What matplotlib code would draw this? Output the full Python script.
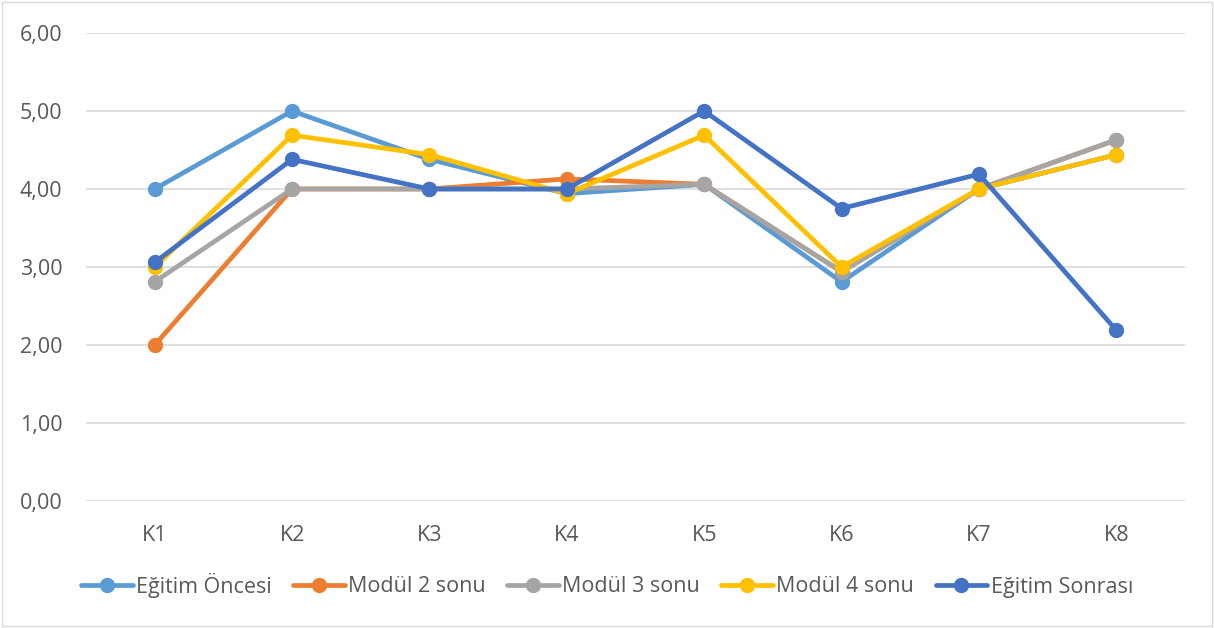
import matplotlib
matplotlib.use("Agg")
import matplotlib.pyplot as plt
from matplotlib.patches import Rectangle

categories = ["K1", "K2", "K3", "K4", "K5", "K6", "K7", "K8"]
egitim_oncesi = [4.00, 5.00, 4.38, 3.94, 4.06, 2.81, 4.00, 4.44]
modul2 = [2.00, 4.00, 4.00, 4.13, 4.06, 2.94, 4.00, 4.63]
modul3 = [2.81, 4.00, 4.00, 4.00, 4.06, 2.94, 4.00, 4.63]
modul4 = [3.00, 4.69, 4.44, 3.94, 4.69, 3.00, 4.00, 4.44]
egitim_sonrasi = [3.06, 4.38, 4.00, 4.00, 5.00, 3.75, 4.19, 2.19]

series = [
    ("Eğitim Öncesi", egitim_oncesi, "#5B9BD5"),
    ("Modül 2 sonu", modul2, "#ED7D31"),
    ("Modül 3 sonu", modul3, "#A5A5A5"),
    ("Modül 4 sonu", modul4, "#FFC000"),
    ("Eğitim Sonrası", egitim_sonrasi, "#4472C4"),
]

plt.rcParams['font.family'] = ['Open Sans', 'DejaVu Sans']

fig = plt.figure(figsize=(12.14, 6.28), dpi=100)
ax = fig.add_axes([86/1214, (628-501)/628, (1185-86)/1214, (501-33)/628])

x = list(range(len(categories)))
for name, vals, col in series:
    ax.plot(x, vals, color=col, lw=3.4, marker='o', markersize=10, label=name,
            solid_capstyle='round')

ax.set_xlim(-0.5, len(categories) - 0.5)
ax.set_ylim(0, 6)
ax.set_yticks([0, 1, 2, 3, 4, 5, 6])
ax.set_yticklabels([f"{v:.2f}".replace('.', ',') for v in range(7)])
ax.set_xticks(x)
ax.set_xticklabels(categories)
ax.tick_params(length=0, labelsize=15.5, labelcolor="#595959")
ax.tick_params(axis='x', pad=17)
ax.tick_params(axis='y', pad=17)
ax.grid(axis='y', color="#D9D9D9", lw=1.2)
ax.set_axisbelow(True)
for s in ax.spines.values():
    s.set_visible(False)

leg = fig.legend(loc='center', bbox_to_anchor=(0.5, (628-585)/628), ncol=5,
                 frameon=False, fontsize=15.5, handlelength=2.4, columnspacing=1.0,
                 handletextpad=0.15)
for t in leg.get_texts():
    t.set_color("#595959")

fig.patches.append(Rectangle((2/1214, 2/628), 1 - 4/1214, 1 - 4/628,
                             transform=fig.transFigure, fill=False,
                             edgecolor="#D9D9D9", lw=1))

fig.savefig("out.png", dpi=100)
